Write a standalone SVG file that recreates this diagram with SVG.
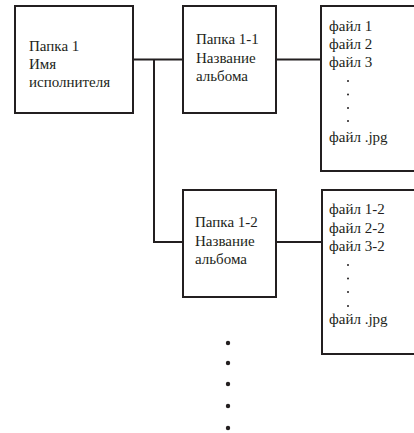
<svg xmlns="http://www.w3.org/2000/svg" width="414" height="433" viewBox="0 0 414 433">
<style>
.box{fill:#fff;stroke:#231f20;stroke-width:2}
.ln{fill:none;stroke:#231f20;stroke-width:2}
.t{font-size:15px;fill:#231f20}
.dot{fill:#231f20}
</style>
<rect width="414" height="433" fill="#fff"/>
<g id="connectors">
<polyline class="ln" points="133,59.5 183,59.5"/>
<polyline class="ln" points="154,59.5 154,242 183,242"/>
<polyline class="ln" points="276,59.5 321,59.5"/>
<polyline class="ln" points="276,242 322,242"/>
</g>
<g class="t" font-family="Liberation Serif, DejaVu Serif, serif">
<g id="folder1">
<rect class="box" x="15" y="6" width="118" height="107"/>
<text x="29" y="50.5">Папка 1</text>
<text x="29" y="69">Имя</text>
<text x="29" y="87">исполнителя</text>
</g>
<g id="folder1-1">
<rect class="box" x="183" y="6" width="93" height="107"/>
<text x="196" y="44">Папка 1-1</text>
<text x="196" y="62.5">Название</text>
<text x="196" y="81">альбома</text>
</g>
<g id="files1">
<rect class="box" x="321" y="6" width="100" height="165"/>
<text x="329" y="31">файл 1</text>
<text x="329" y="49">файл 2</text>
<text x="329" y="67">файл 3</text>
<circle class="dot" cx="348" cy="81" r="1"/>
<circle class="dot" cx="348" cy="94.5" r="1"/>
<circle class="dot" cx="348" cy="108" r="1"/>
<circle class="dot" cx="348" cy="121" r="1"/>
<text x="329" y="142">файл .jpg</text>
</g>
<g id="folder1-2">
<rect class="box" x="183" y="190" width="93" height="107"/>
<text x="195" y="227">Папка 1-2</text>
<text x="195" y="246">Название</text>
<text x="195" y="264">альбома</text>
</g>
<g id="files2">
<rect class="box" x="322" y="190" width="100" height="164"/>
<text x="329" y="214">файл 1-2</text>
<text x="329" y="232.5">файл 2-2</text>
<text x="329" y="251">файл 3-2</text>
<circle class="dot" cx="348" cy="265" r="1"/>
<circle class="dot" cx="348" cy="278.5" r="1"/>
<circle class="dot" cx="348" cy="292" r="1"/>
<circle class="dot" cx="348" cy="306" r="1"/>
<text x="329" y="324">файл .jpg</text>
</g>
</g>
<g id="more">
<circle class="dot" cx="228" cy="343" r="2.2"/>
<circle class="dot" cx="228" cy="363" r="2.2"/>
<circle class="dot" cx="228" cy="384" r="2.2"/>
<circle class="dot" cx="228" cy="406" r="2.2"/>
<circle class="dot" cx="228" cy="428" r="2.2"/>
</g>
</svg>
